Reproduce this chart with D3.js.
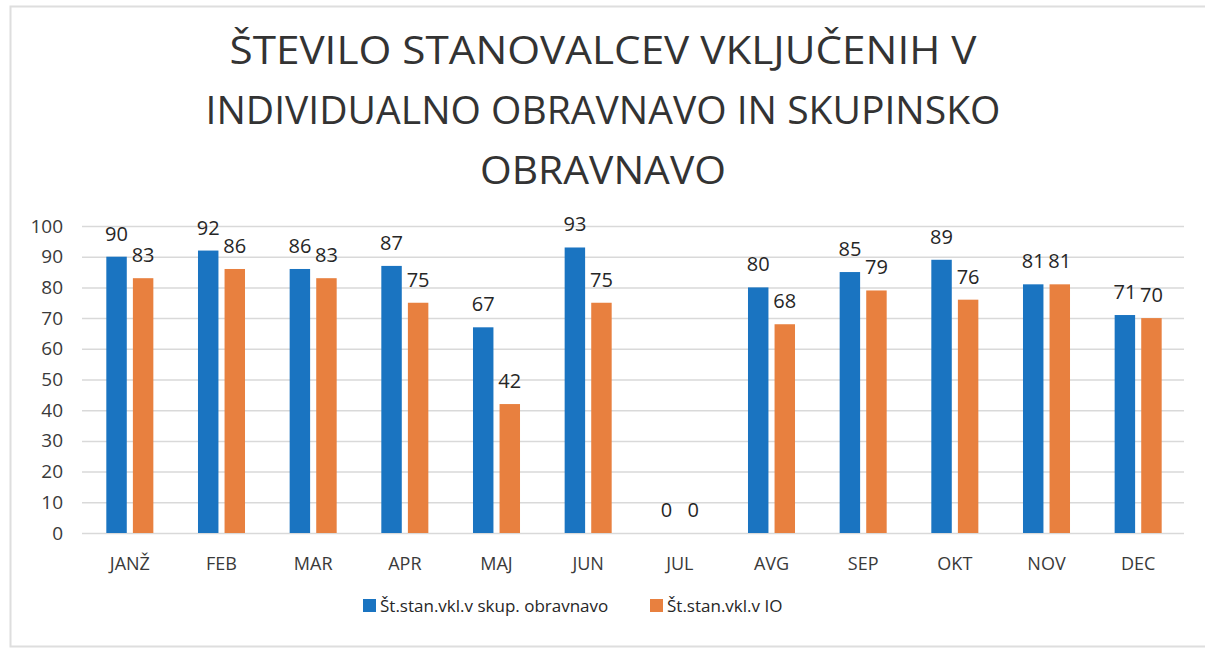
<!DOCTYPE html>
<html>
<head>
<meta charset="utf-8">
<script src="https://cdn.jsdelivr.net/npm/d3@7"></script>
<style>
  body { margin: 0; background: #fff; }
  text { font-family: "Open Sans", "Noto Sans", sans-serif; }
</style>
</head>
<body>
<svg width="1205" height="649"></svg>
<script>
var months = ['JANŽ', 'FEB', 'MAR', 'APR', 'MAJ', 'JUN', 'JUL', 'AVG', 'SEP', 'OKT', 'NOV', 'DEC'];
var skupValues = [90, 92, 86, 87, 67, 93, 0, 80, 85, 89, 81, 71];
var ioValues = [83, 86, 83, 75, 42, 75, 0, 68, 79, 76, 81, 70];
var seriesNames = ['Št.stan.vkl.v skup. obravnavo', 'Št.stan.vkl.v IO'];
var seriesColors = ['#1a74c1', '#e8803f'];
var yTicks = [0, 10, 20, 30, 40, 50, 60, 70, 80, 90, 100];
var titleLines = ['ŠTEVILO STANOVALCEV VKLJUČENIH V', 'INDIVIDUALNO OBRAVNAVO IN SKUPINSKO', 'OBRAVNAVO'];

var svg = d3.select('svg');

// frame of the scanned chart
svg.append('path')
  .attr('d', 'M1205,6.5 H10.5 V646.5 H1205')
  .attr('fill', 'none')
  .attr('stroke', '#dedede')
  .attr('stroke-width', 2);

// title
var titleWidths = [747, 795, 246];
svg.append('g').selectAll('text')
  .data(titleLines)
  .enter().append('text')
  .attr('x', 603)
  .attr('y', function(d, i) { return 64 + i * 60; })
  .attr('text-anchor', 'middle')
  .attr('font-size', 38)
  .attr('fill', '#333')
  .attr('textLength', function(d, i) { return titleWidths[i]; })
  .attr('lengthAdjust', 'spacingAndGlyphs')
  .text(function(d) { return d; });

var x0 = d3.scaleBand()
  .domain(months)
  .range([84, 1184])
  .paddingInner(0.487)
  .paddingOuter(0.2435);

var x1 = d3.scaleBand()
  .domain([0, 1])
  .range([0, x0.bandwidth()])
  .paddingInner(0.23);

var y = d3.scaleLinear()
  .domain([0, 100])
  .range([533, 226]);

// gridlines
svg.append('g').selectAll('line')
  .data(yTicks)
  .enter().append('line')
  .attr('x1', 82)
  .attr('x2', 1184)
  .attr('y1', function(d) { return y(d) + 0.5; })
  .attr('y2', function(d) { return y(d) + 0.5; })
  .attr('stroke', '#d9d9d9')
  .attr('stroke-width', 1.5);

// y axis labels
var yAxis = svg.append('g')
  .attr('transform', 'translate(63,0)')
  .call(d3.axisLeft(y).tickValues(yTicks).tickSize(0).tickPadding(0));
yAxis.select('.domain').remove();
yAxis.selectAll('text')
  .attr('font-size', 19)
  .attr('fill', '#3a3a3a')
  .style('font-family', '"Open Sans", sans-serif');

// x axis labels
var xAxis = svg.append('g')
  .attr('transform', 'translate(0,547)')
  .call(d3.axisBottom(x0).tickSize(0).tickPadding(10));
xAxis.select('.domain').remove();
xAxis.selectAll('text')
  .attr('font-size', 18)
  .attr('fill', '#3a3a3a')
  .style('font-family', '"Open Sans", sans-serif');

var rows = months.map(function(m, i) {
  return { month: m, values: [skupValues[i], ioValues[i]] };
});

var groups = svg.append('g').selectAll('g')
  .data(rows)
  .enter().append('g')
  .attr('transform', function(d) { return 'translate(' + x0(d.month) + ',0)'; });

groups.selectAll('rect')
  .data(function(d) { return d.values; })
  .enter().append('rect')
  .attr('x', function(d, i) { return x1(i); })
  .attr('y', function(d) { return y(d); })
  .attr('width', x1.bandwidth())
  .attr('height', function(d) { return y(0) - y(d); })
  .attr('fill', function(d, i) { return seriesColors[i]; });

groups.selectAll('text')
  .data(function(d) { return d.values; })
  .enter().append('text')
  .attr('x', function(d, i) { return x1(i) + x1.bandwidth() / 2; })
  .attr('y', function(d) { return y(d) - 16; })
  .attr('text-anchor', 'middle')
  .attr('font-size', 20)
  .attr('fill', '#262626')
  .text(function(d) { return d; });

// legend
var legendX = [363, 650];
var legend = svg.append('g').selectAll('g')
  .data(seriesNames)
  .enter().append('g')
  .attr('transform', function(d, i) { return 'translate(' + legendX[i] + ',599)'; });

legend.append('rect')
  .attr('width', 13)
  .attr('height', 13)
  .attr('fill', function(d, i) { return seriesColors[i]; });

legend.append('text')
  .attr('x', 17)
  .attr('y', 12.5)
  .attr('font-size', 17)
  .attr('fill', '#262626')
  .text(function(d) { return d; });
</script>
</body>
</html>
